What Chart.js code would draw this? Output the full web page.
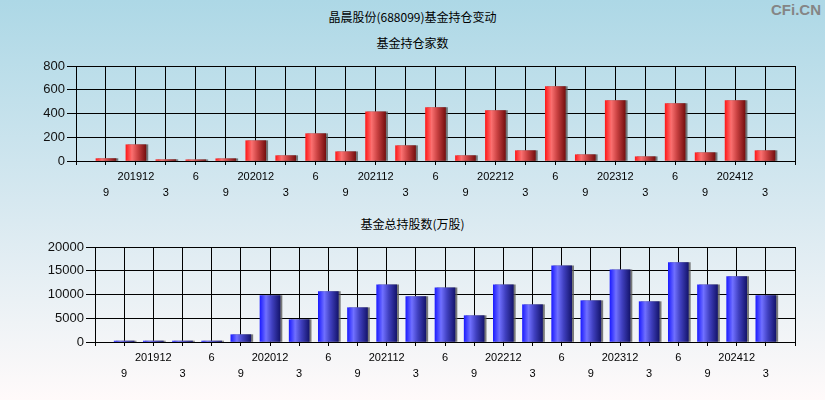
<!DOCTYPE html>
<html>
<head>
<meta charset="utf-8">
<script src="https://cdn.jsdelivr.net/npm/chart.js@4.4.1/dist/chart.umd.min.js"></script>
<style>
  html, body { margin: 0; padding: 0; }
  body {
    width: 825px; height: 400px; position: relative; overflow: hidden;
    background: linear-gradient(to bottom, #add8e6 0%, #d6e8f0 50%, #fffafa 100%);
    font-family: "Noto Sans CJK SC", sans-serif;
  }
  .title { position: absolute; left: 0; width: 825px; text-align: center; font-size: 12px; color: #000; line-height: 14px; }
  .mark { position: absolute; right: 4px; top: 1px; font: bold 15px "Liberation Sans", Arial, sans-serif; color: #858585; }
  canvas { position: absolute; left: 0; }
</style>
</head>
<body>
<div class="title" style="top:10px">晶晨股份(688099)基金持仓变动</div>
<div class="title" style="top:36px">基金持仓家数</div>
<div class="title" style="top:217px">基金总持股数(万股)</div>
<div class="mark">CFi.CN</div>
<canvas id="countChart" width="825" height="200" style="top:0"></canvas>
<canvas id="sharesChart" width="825" height="200" style="top:200px"></canvas>
<script>
// quarters 201906 .. 202506, first and last slot stay empty
const categories = ['201906', '201909', '201912', '202003', '202006', '202009', '202012', '202103', '202106', '202109',
    '202112', '202203', '202206', '202209', '202212', '202303', '202306', '202309', '202312', '202403',
    '202406', '202409', '202412', '202503', '202506'];
const tickLabels = ['', '9', '201912', '3', '6', '9', '202012', '3', '6', '9',
    '202112', '3', '6', '9', '202212', '3', '6', '9', '202312', '3',
    '6', '9', '202412', '3', ''];
const fundCount = [null, 20, 137, 11, 10, 19, 171, 45, 230, 78,
    415, 129, 449, 45, 424, 87, 626, 53, 508, 36,
    483, 70, 508, 87, null];
const fundShares = [null, 200, 200, 200, 200, 1540, 9750, 4700, 10590, 7220,
    12060, 9540, 11430, 5540, 12060, 7850, 16060, 8700, 15220, 8490,
    16700, 12060, 13750, 9750, null];

const redStops = [[0, '#ff1a1a'], [0.3, '#fb7070'], [0.6, '#c84040'], [1, '#761010']];
const blueStops = [[0, '#1e1eff'], [0.3, '#7070ff'], [0.6, '#4040c0'], [1, '#15156e']];

function barFill(context, stops) {
    const chart = context.chart;
    const xScale = chart.scales.x;
    if (!chart.chartArea || !xScale) return stops[0][1];
    const cx = xScale.getPixelForValue(context.dataIndex);
    const g = chart.ctx.createLinearGradient(cx - 10, 0, cx + 10, 0);
    stops.forEach(s => g.addColorStop(s[0], s[1]));
    return g;
}

const barShadow = {
    id: 'barShadow',
    beforeDatasetsDraw(chart) {
        const c = chart.ctx;
        c.save();
        c.shadowColor = 'rgba(90,90,90,0.8)';
        c.shadowOffsetX = 2;
        c.shadowOffsetY = 0;
        c.shadowBlur = 0;
    },
    afterDatasetsDraw(chart) {
        chart.ctx.restore();
    }
};

function makeChart(id, values, stops, yMax, yStep, yWidth, xHeight, padTop) {
    const ctx = document.getElementById(id).getContext('2d');
    return new Chart(ctx, {
        type: 'bar',
        data: {
            labels: categories,
            datasets: [{
                data: values,
                backgroundColor: c => barFill(c, stops),
                borderWidth: 0,
                barThickness: 20
            }]
        },
        plugins: [barShadow],
        options: {
            responsive: false,
            animation: false,
            devicePixelRatio: 1,
            layout: { padding: { top: padTop, right: 30, bottom: 0, left: 0 } },
            plugins: { legend: { display: false }, tooltip: { enabled: false } },
            scales: {
                x: {
                    offset: false,
                    grid: { offset: false, color: '#000', lineWidth: 1, tickLength: 4 },
                    border: { color: '#000' },
                    afterFit: s => { s.height = xHeight; },
                    ticks: {
                        autoSkip: false,
                        maxRotation: 0,
                        padding: 4,
                        color: '#000',
                        font: { family: 'Liberation Sans', size: 11, lineHeight: 1.45 },
                        callback: (v, i) => i % 2 === 0 ? [tickLabels[i], ''] : ['', tickLabels[i]]
                    }
                },
                y: {
                    min: 0,
                    max: yMax,
                    grid: { color: '#000', lineWidth: 1, tickLength: 9 },
                    border: { color: '#000' },
                    afterFit: s => { s.width = yWidth; },
                    ticks: {
                        stepSize: yStep,
                        padding: 2,
                        color: '#111',
                        font: { family: 'Liberation Sans', size: 13 },
                        callback: v => String(v)
                    }
                }
            }
        }
    });
}

makeChart('countChart', fundCount, redStops, 800, 200, 76, 39, 66);
makeChart('sharesChart', fundShares, blueStops, 20000, 5000, 95, 58, 47);
</script>
</body>
</html>
